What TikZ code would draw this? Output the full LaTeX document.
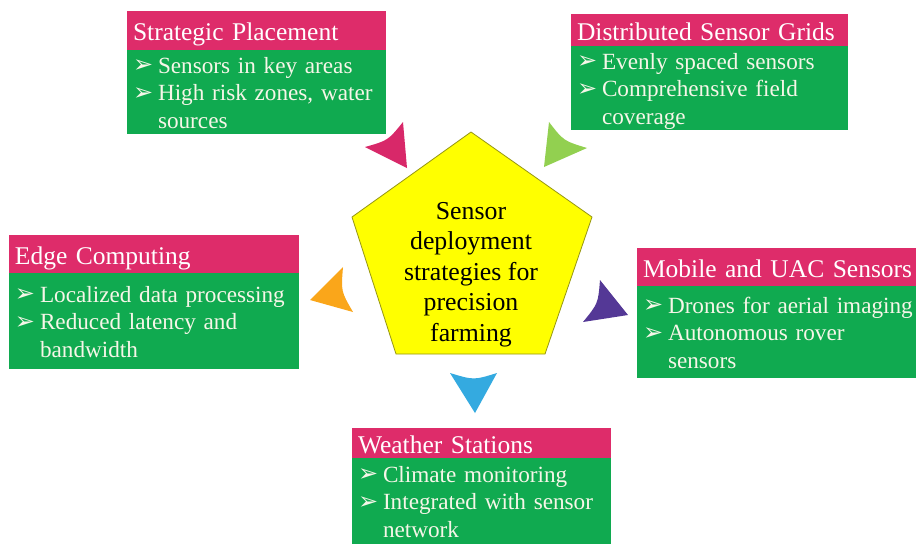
\documentclass[tikz,border=0pt]{standalone}
\usepackage{fontspec}
\setmainfont{Liberation Serif}
\newfontfamily\dejavu{DejaVu Sans}
\definecolor{hdrpink}{RGB}{222,44,106}
\definecolor{bodygreen}{RGB}{16,170,80}
\definecolor{bodytext}{RGB}{246,246,232}
\definecolor{pentfill}{RGB}{255,255,0}
\definecolor{pentline}{RGB}{150,150,20}
\definecolor{arpink}{RGB}{216,40,105}
\definecolor{argreen}{RGB}{146,208,80}
\definecolor{arorange}{RGB}{250,166,26}
\definecolor{arpurple}{RGB}{84,56,150}
\definecolor{arblue}{RGB}{52,170,224}
\newcommand{\bul}{\makebox[25pt][l]{\raisebox{0.5pt}{\dejavu\fontsize{24}{24}\selectfont ➢}}}
\newcommand{\itm}[1]{\bul\mbox{#1}}
\newcommand{\itmfirst}[1]{\rule{0pt}{23pt}\bul\mbox{#1}}
\newcommand{\cnt}[1]{\hspace*{25pt}\mbox{#1}\rule[-5.5pt]{0pt}{5.5pt}}
\tikzset{
  hdr/.style={fill=hdrpink, text=white, anchor=north west, inner xsep=6pt, inner ysep=0pt,
    outer sep=0pt, align=left, text height=20pt, text depth=0pt,
    font=\fontsize{25.5}{30}\selectfont},
  bdy/.style={fill=bodygreen, text=bodytext, anchor=north west, inner xsep=6pt, inner ysep=0pt,
    outer sep=0pt, align=left, font=\fontsize{23.2}{27.5}\selectfont},
  pent/.style={fill=pentfill, draw=pentline, line width=0.8pt},
  ctr/.style={align=center, font=\fontsize{25.8}{30.5}\selectfont, inner sep=0pt}
}
\begin{document}
\begin{tikzpicture}[x=1pt,y=-1pt]
\useasboundingbox[fill=white] (0,0) rectangle (922,550);

% central pentagon
\coordinate (p1) at (471,132);
\coordinate (p2) at (592,217);
\coordinate (p3) at (545,354);
\coordinate (p4) at (396,354);
\coordinate (p5) at (352,217);
\draw[pent] (p1) -- (p2) -- (p3) -- (p4) -- (p5) -- cycle;
\node[ctr] (core) at (471,274.5) {Sensor\\deployment\\strategies for\\precision\\farming};

% Strategic Placement
\node[hdr, text width=247pt, minimum height=39pt] (sp-h) at (127,11) {\mbox{Strategic Placement}};
\node[bdy, text width=247pt, minimum height=82pt] (sp-b) at (sp-h.south west)
  {\itmfirst{Sensors in key areas}\\\itm{High risk zones, water}\\\cnt{sources}};

% Distributed Sensor Grids
\node[hdr, text width=265pt, minimum height=32pt] (dg-h) at (571,14) {\mbox{Distributed Sensor Grids}};
\node[bdy, text width=265pt, minimum height=84pt] (dg-b) at (dg-h.south west)
  {\itmfirst{Evenly spaced sensors}\\\itm{Comprehensive field}\\\cnt{coverage}};

% Edge Computing
\node[hdr, text width=278pt, minimum height=38pt] (ec-h) at (9,235) {\mbox{Edge Computing}};
\node[bdy, text width=278pt, minimum height=96pt] (ec-b) at (ec-h.south west)
  {\itmfirst{Localized data processing}\\\itm{Reduced latency and}\\\cnt{bandwidth}};

% Mobile and UAC Sensors
\node[hdr, text width=267pt, minimum height=38pt] (mu-h) at (637,248) {\mbox{Mobile and UAC Sensors}};
\node[bdy, text width=267pt, minimum height=92pt] (mu-b) at (mu-h.south west)
  {\itmfirst{Drones for aerial imaging}\\\itm{Autonomous rover}\\\cnt{sensors}};

% Weather Stations
\node[hdr, text width=247pt, minimum height=30pt] (ws-h) at (352,428) {\mbox{Weather Stations}};
\node[bdy, text width=247pt, minimum height=86pt] (ws-b) at (ws-h.south west)
  {\itmfirst{Climate monitoring}\\\itm{Integrated with sensor}\\\cnt{network}};

% arrowheads
\fill[arpink] (365,147) .. controls (388,140.5) .. (403,122) -- (407,168) -- cycle;
\fill[argreen] (549,122) .. controls (563.5,140.8) .. (587,148) -- (544,167) -- cycle;
\fill[arorange] (343,267) .. controls (341,291.4) .. (353,312) -- (310,300) -- cycle;
\fill[arpurple] (600,280) .. controls (598.1,303.5) .. (583,322) -- (628,315) -- cycle;
\fill[arblue] (450,373) .. controls (473.8,380.2) .. (497,373) -- (475,413) -- cycle;
\end{tikzpicture}
\end{document}
